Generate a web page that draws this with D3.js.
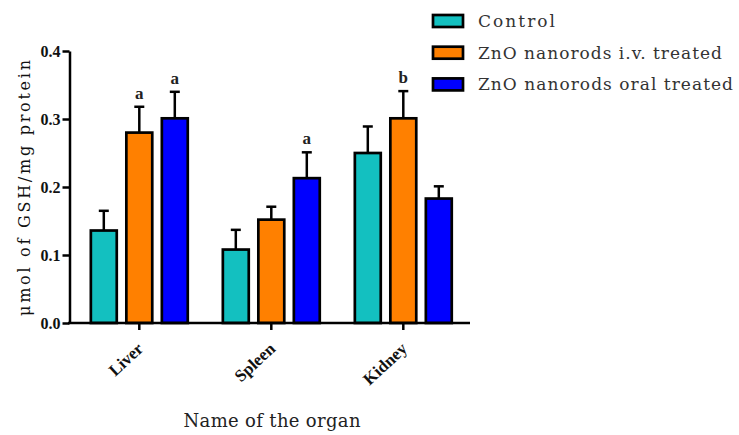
<!DOCTYPE html>
<html><head><meta charset="utf-8">
<script src="https://cdn.jsdelivr.net/npm/d3@7"></script>
<style>body{margin:0;background:#fff}svg{display:block}</style>
</head><body>
<svg id="c" width="739" height="435"></svg>
<script>
const organs = ["Liver", "Spleen", "Kidney"];
const seriesNames = ["Control", "ZnO nanorods i.v. treated", "ZnO nanorods oral treated"];
const seriesColors = ["#13C0C0", "#FF8000", "#0000FF"];
const controlMean = [0.136, 0.108, 0.250];
const controlErr  = [0.029, 0.029, 0.039];
const ivMean      = [0.280, 0.152, 0.301];
const ivErr       = [0.038, 0.019, 0.040];
const oralMean    = [0.301, 0.213, 0.183];
const oralErr     = [0.039, 0.038, 0.018];
const sigLetters  = [["", "a", "a"], ["", "", "a"], ["", "b", ""]]; // per organ, per series
const yTicks = [0.0, 0.1, 0.2, 0.3, 0.4];

const means = [controlMean, ivMean, oralMean];
const errs = [controlErr, ivErr, oralErr];

const svg = d3.select("#c");
const y = d3.scaleLinear().domain([0, 0.4]).range([323, 51]);
const x0 = d3.scaleBand().domain(organs).range([73.3, 469.3]);
const x1 = d3.scaleBand().domain(d3.range(3)).range([-53.25, 53.25]).paddingInner(0.27).paddingOuter(0.135);

const serif = "'Liberation Serif', 'Times New Roman', serif";
const wide = "'DejaVu Serif', serif";

// bars
organs.forEach((o, gi) => {
  const cx = x0(o) + x0.bandwidth() / 2;
  d3.range(3).forEach(si => {
    const v = means[si][gi], e = errs[si][gi];
    const bx = cx + x1(si);
    const bw = x1.bandwidth();
    const bc = bx + bw / 2;
    svg.append("line").attr("x1", bc).attr("x2", bc).attr("y1", y(v)).attr("y2", y(v + e))
      .attr("stroke", "#000").attr("stroke-width", 2.5);
    svg.append("line").attr("x1", bc - 5).attr("x2", bc + 5).attr("y1", y(v + e)).attr("y2", y(v + e))
      .attr("stroke", "#000").attr("stroke-width", 2.5);
    svg.append("rect").attr("x", bx).attr("y", y(v)).attr("width", bw).attr("height", y(0) - y(v))
      .attr("fill", seriesColors[si]).attr("stroke", "#000").attr("stroke-width", 2.7);
    const L = sigLetters[gi][si];
    if (L) {
      svg.append("text").attr("x", bc).attr("y", y(v + e) - 8).attr("text-anchor", "middle")
        .attr("font-family", serif).attr("font-weight", "bold").attr("font-size", 17).attr("fill", "#222").text(L);
    }
  });
});

// y axis
const yAxis = d3.axisLeft(y).tickValues(yTicks).tickFormat(d3.format(".1f")).tickSize(7).tickSizeOuter(0);
const gy = svg.append("g").attr("transform", "translate(69.5,0)").call(yAxis);
gy.select(".domain").attr("stroke", "#000").attr("stroke-width", 2.5);
gy.selectAll(".tick line").attr("stroke", "#000").attr("stroke-width", 2.5);
gy.selectAll(".tick text").attr("font-family", serif).attr("font-weight", "bold").attr("font-size", 16)
  .attr("fill", "#111").attr("x", -9);

// x axis
const xAxis = d3.axisBottom(x0).tickSize(7).tickSizeOuter(0);
const gx = svg.append("g").attr("transform", "translate(0,323)").call(xAxis);
gx.select(".domain").attr("d", "M68,0H470").attr("stroke", "#000").attr("stroke-width", 2.5);
gx.selectAll(".tick line").attr("stroke", "#000").attr("stroke-width", 2.5);
gx.selectAll(".tick text").attr("font-family", serif).attr("font-weight", "bold").attr("font-size", 17)
  .attr("fill", "#111").attr("text-anchor", "end").attr("dy", 0).attr("y", 0)
  .attr("transform", "translate(5,27) rotate(-43)");

// axis titles
svg.append("text").attr("transform", "translate(30,188) rotate(-90)").attr("text-anchor", "middle")
  .attr("font-family", wide).attr("font-size", 16).attr("fill", "#111")
  .attr("textLength", 256).attr("lengthAdjust", "spacing").text("μmol of GSH/mg protein");
svg.append("text").attr("x", 272).attr("y", 427).attr("text-anchor", "middle")
  .attr("font-family", wide).attr("font-size", 18).attr("fill", "#222")
  .attr("textLength", 177).attr("lengthAdjust", "spacing").text("Name of the organ");

// legend
const legendLen = [77, 244, 255];
seriesNames.forEach((n, i) => {
  const cy = 21 + i * 31.7;
  svg.append("rect").attr("x", 433).attr("y", cy - 6).attr("width", 30).attr("height", 12)
    .attr("fill", seriesColors[i]).attr("stroke", "#000").attr("stroke-width", 2.7);
  svg.append("text").attr("x", 478).attr("y", cy + 6).attr("font-family", wide).attr("font-size", 17)
    .attr("fill", "#333")
    .attr("textLength", legendLen[i]).attr("lengthAdjust", "spacing").text(n);
});
</script>
</body></html>
